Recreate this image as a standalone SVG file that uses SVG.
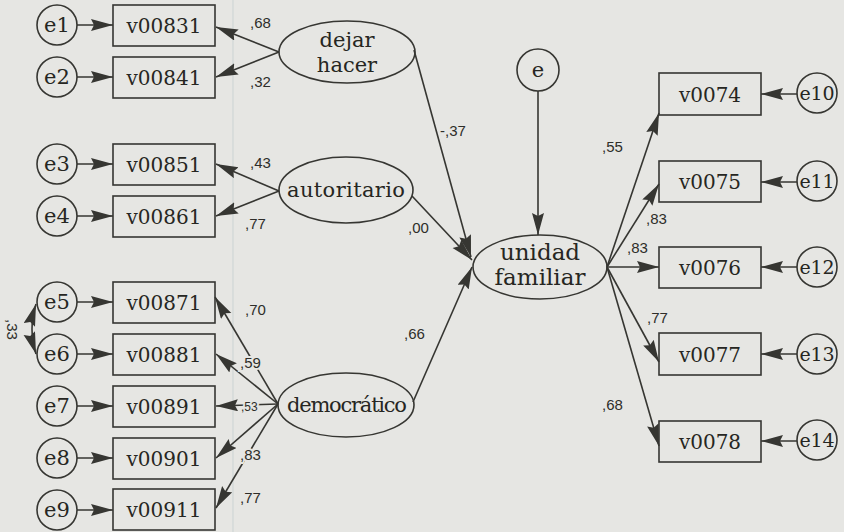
<svg xmlns="http://www.w3.org/2000/svg" width="844" height="532" viewBox="0 0 844 532">
<defs>
<style>
.bg{fill:#e6e6e3}
.n{fill:none;stroke:#363632;stroke-width:1.6}
.t{font-family:"DejaVu Serif","Liberation Serif",serif;font-size:20px;fill:#262622;text-anchor:middle}
.et{font-family:"DejaVu Serif","Liberation Serif",serif;font-size:21px;fill:#262622;text-anchor:middle}
.lt{font-family:"DejaVu Serif","Liberation Serif",serif;font-size:21px;fill:#262622;text-anchor:middle}
.c{fill:none;stroke:#363632;stroke-width:1.6;marker-end:url(#ah)}
.lb{font-family:"Liberation Sans",Arial,sans-serif;font-size:15px;fill:#2e2e2a;paint-order:stroke;stroke:#e6e6e3;stroke-width:4px}
</style>
<marker id="ah" markerUnits="userSpaceOnUse" markerWidth="24" markerHeight="14" refX="22" refY="6" orient="auto-start-reverse">
<path d="M0,0 L22,6 L0,12 L3,6 z" fill="#363632"/>
</marker>
</defs>
<rect class="bg" x="0" y="0" width="844" height="532"/>
<line x1="233" y1="0" x2="233" y2="532" stroke="#cbd3d3" stroke-width="1"/>

<g id="connectors">
<line class="c" x1="77" y1="25" x2="113" y2="25"/>
<line class="c" x1="77" y1="77" x2="113" y2="77"/>
<line class="c" x1="77" y1="164" x2="113" y2="164"/>
<line class="c" x1="77" y1="216" x2="113" y2="216"/>
<line class="c" x1="77" y1="302" x2="113" y2="302"/>
<line class="c" x1="77" y1="354" x2="113" y2="354"/>
<line class="c" x1="77" y1="406" x2="113" y2="406"/>
<line class="c" x1="77" y1="458" x2="113" y2="458"/>
<line class="c" x1="77" y1="510" x2="113" y2="510"/>
<path class="n" d="M36,304 Q28,329 36,354" marker-start="url(#ah)" marker-end="url(#ah)"/>
<line class="c" x1="279" y1="52" x2="216" y2="27"/>
<line class="c" x1="279" y1="52" x2="216" y2="77"/>
<line class="c" x1="279" y1="191" x2="216" y2="164"/>
<line class="c" x1="279" y1="191" x2="216" y2="216"/>
<line class="c" x1="278" y1="404" x2="215" y2="297"/>
<line class="c" x1="278" y1="404" x2="216" y2="354"/>
<line class="c" x1="278" y1="404" x2="216" y2="406"/>
<line class="c" x1="278" y1="404" x2="216" y2="458"/>
<line class="c" x1="278" y1="404" x2="216" y2="508"/>
<line class="c" x1="414" y1="50" x2="471" y2="257"/>
<line class="c" x1="412" y1="196" x2="472" y2="260"/>
<line class="c" x1="413" y1="402" x2="472" y2="267"/>
<line class="c" x1="538" y1="91" x2="538" y2="235"/>
<line class="c" x1="607" y1="267" x2="659" y2="113"/>
<line class="c" x1="607" y1="267" x2="659" y2="184"/>
<line class="c" x1="607" y1="267" x2="659" y2="267"/>
<line class="c" x1="607" y1="267" x2="659" y2="362"/>
<line class="c" x1="607" y1="267" x2="659" y2="446"/>
<line class="c" x1="797" y1="94" x2="761" y2="94"/>
<line class="c" x1="797" y1="182" x2="761" y2="182"/>
<line class="c" x1="797" y1="267" x2="761" y2="267"/>
<line class="c" x1="797" y1="354" x2="761" y2="354"/>
<line class="c" x1="797" y1="441" x2="761" y2="441"/>
</g>

<g id="labels">
<text class="lb" x="250" y="28">,68</text>
<text class="lb" x="250" y="87">,32</text>
<text class="lb" x="250" y="168">,43</text>
<text class="lb" x="245" y="229">,77</text>
<text class="lb" x="440" y="136">-,37</text>
<text class="lb" x="408" y="233">,00</text>
<text class="lb" x="404" y="339">,66</text>
<text class="lb" x="245" y="315">,70</text>
<text class="lb" x="240" y="368">,59</text>
<text class="lb" x="241" y="411" style="font-size:12px">,53</text>
<text class="lb" x="240" y="460">,83</text>
<text class="lb" x="240" y="503">,77</text>
<text class="lb" x="7" y="319" transform="rotate(90 7 319)">,33</text>
<text class="lb" x="602" y="152">,55</text>
<text class="lb" x="646" y="224">,83</text>
<text class="lb" x="627" y="253">,83</text>
<text class="lb" x="647" y="323">,77</text>
<text class="lb" x="602" y="410">,68</text>
</g>

<g id="e1"><circle class="n" cx="57" cy="25" r="20"/><text class="et" x="57" y="32">e1</text></g>
<g id="e2"><circle class="n" cx="57" cy="77" r="20"/><text class="et" x="57" y="84">e2</text></g>
<g id="e3"><circle class="n" cx="57" cy="164" r="20"/><text class="et" x="57" y="171">e3</text></g>
<g id="e4"><circle class="n" cx="57" cy="216" r="20"/><text class="et" x="57" y="223">e4</text></g>
<g id="e5"><circle class="n" cx="57" cy="302" r="20"/><text class="et" x="57" y="309">e5</text></g>
<g id="e6"><circle class="n" cx="57" cy="354" r="20"/><text class="et" x="57" y="361">e6</text></g>
<g id="e7"><circle class="n" cx="57" cy="406" r="20"/><text class="et" x="57" y="413">e7</text></g>
<g id="e8"><circle class="n" cx="57" cy="458" r="20"/><text class="et" x="57" y="465">e8</text></g>
<g id="e9"><circle class="n" cx="57" cy="510" r="20"/><text class="et" x="57" y="517">e9</text></g>

<g id="v00831"><rect class="n" x="113" y="5" width="102" height="41"/><text class="t" x="164" y="33">v00831</text></g>
<g id="v00841"><rect class="n" x="113" y="57" width="102" height="41"/><text class="t" x="164" y="85">v00841</text></g>
<g id="v00851"><rect class="n" x="113" y="144" width="102" height="41"/><text class="t" x="164" y="172">v00851</text></g>
<g id="v00861"><rect class="n" x="113" y="196" width="102" height="41"/><text class="t" x="164" y="224">v00861</text></g>
<g id="v00871"><rect class="n" x="113" y="282" width="102" height="41"/><text class="t" x="164" y="310">v00871</text></g>
<g id="v00881"><rect class="n" x="113" y="334" width="102" height="41"/><text class="t" x="164" y="362">v00881</text></g>
<g id="v00891"><rect class="n" x="113" y="386" width="102" height="41"/><text class="t" x="164" y="414">v00891</text></g>
<g id="v00901"><rect class="n" x="113" y="438" width="102" height="41"/><text class="t" x="164" y="466">v00901</text></g>
<g id="v00911"><rect class="n" x="113" y="489" width="102" height="41"/><text class="t" x="164" y="517">v00911</text></g>

<g id="dejar_hacer"><ellipse class="n" cx="347" cy="52" rx="68" ry="31"/><text class="lt" x="347" y="47">dejar</text><text class="lt" x="347" y="72">hacer</text></g>
<g id="autoritario"><ellipse class="n" cx="346" cy="190" rx="67" ry="33"/><text class="lt" x="346" y="197" textLength="118">autoritario</text></g>
<g id="democratico"><ellipse class="n" cx="346" cy="405" rx="68" ry="32"/><text class="lt" x="347" y="412" textLength="120">democrático</text></g>
<g id="unidad_familiar"><ellipse class="n" cx="540" cy="267" rx="67" ry="32"/><text class="lt" x="540" y="260" style="font-size:23px">unidad</text><text class="lt" x="540" y="285" style="font-size:23px">familiar</text></g>
<g id="e"><circle class="n" cx="538" cy="70" r="21"/><text class="et" x="538" y="77">e</text></g>

<g id="v0074"><rect class="n" x="659" y="73" width="102" height="42"/><text class="t" x="710" y="102">v0074</text></g>
<g id="v0075"><rect class="n" x="659" y="161" width="102" height="41"/><text class="t" x="710" y="189">v0075</text></g>
<g id="v0076"><rect class="n" x="659" y="247" width="102" height="41"/><text class="t" x="710" y="275">v0076</text></g>
<g id="v0077"><rect class="n" x="659" y="333" width="102" height="42"/><text class="t" x="710" y="362">v0077</text></g>
<g id="v0078"><rect class="n" x="659" y="421" width="102" height="41"/><text class="t" x="710" y="449">v0078</text></g>

<g id="e10"><circle class="n" cx="817" cy="93" r="20"/><text class="et" x="817" y="100" style="font-size:19px" textLength="35">e10</text></g>
<g id="e11"><circle class="n" cx="817" cy="181" r="20"/><text class="et" x="817" y="188" style="font-size:19px" textLength="35">e11</text></g>
<g id="e12"><circle class="n" cx="817" cy="267" r="20"/><text class="et" x="817" y="274" style="font-size:19px" textLength="35">e12</text></g>
<g id="e13"><circle class="n" cx="817" cy="354" r="20"/><text class="et" x="817" y="361" style="font-size:19px" textLength="35">e13</text></g>
<g id="e14"><circle class="n" cx="817" cy="440" r="20"/><text class="et" x="817" y="447" style="font-size:19px" textLength="35">e14</text></g>
</svg>
